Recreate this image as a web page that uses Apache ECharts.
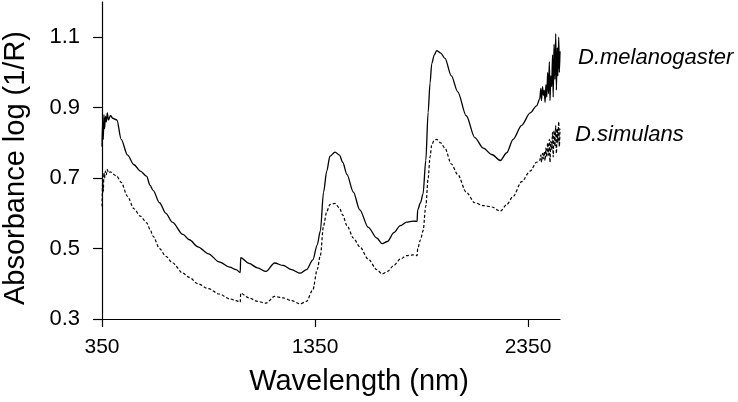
<!DOCTYPE html>
<html>
<head>
<meta charset="utf-8">
<script src="https://cdn.jsdelivr.net/npm/echarts@6/dist/echarts.min.js"></script>
<style>
  html, body { margin: 0; padding: 0; background: #fff; }
  #chart { width: 738px; height: 402px; }
</style>
</head>
<body>
<div id="chart"></div>
<script>
// values (wavelength in nm, absorbance log(1/R))
const wavelength = [
  350, 353, 356, 359, 362, 366, 370, 375, 380, 390, 400, 420, 440, 470, 500,
  530, 560, 575, 590, 620, 650, 680, 730, 760, 800, 850, 900, 950, 980, 999, 1001,
  1040, 1080, 1120, 1160, 1200, 1240, 1280, 1310, 1340, 1360, 1375, 1390, 1405, 1420,
  1444, 1465, 1480, 1500, 1530, 1560, 1600, 1640, 1665, 1690, 1720, 1750, 1780, 1810,
  1829, 1832, 1845, 1857, 1870, 1881, 1890, 1898, 1910, 1921, 1940, 1960, 1990, 2020,
  2060, 2100, 2140, 2180, 2220, 2250, 2280, 2320, 2360, 2390, 2405, 2410, 2413, 2418,
  2422, 2426, 2430, 2434, 2438, 2442, 2446, 2450, 2453, 2457, 2461, 2465, 2468, 2472,
  2476, 2480, 2483, 2487, 2490, 2494, 2497, 2500
];

const melanogaster = [
  0.79, 0.86, 0.81, 0.88, 0.84, 0.875, 0.86, 0.885, 0.865, 0.878, 0.87, 0.865, 0.81, 0.765, 0.738,
  0.72, 0.705, 0.68, 0.665, 0.63, 0.60, 0.575, 0.54, 0.525, 0.505, 0.485, 0.462, 0.447, 0.44, 0.432, 0.474,
  0.458, 0.445, 0.435, 0.459, 0.452, 0.44, 0.43, 0.44, 0.468, 0.51, 0.55, 0.66, 0.72, 0.762,
  0.774, 0.765, 0.745, 0.71, 0.66, 0.61, 0.56, 0.53, 0.514, 0.52, 0.545, 0.565, 0.575, 0.578,
  0.577, 0.61, 0.63, 0.655, 0.75, 0.887, 0.97, 1.025, 1.05, 1.062, 1.055, 1.04, 0.99, 0.945,
  0.877, 0.815, 0.785, 0.767, 0.75, 0.772, 0.81, 0.85, 0.885, 0.905, 0.925, 0.955, 0.92, 0.96,
  0.935, 0.95, 0.915, 0.965, 0.93, 1.00, 0.94, 1.03, 0.92, 0.99, 0.96, 1.05, 0.93, 1.08,
  0.98, 1.11, 0.95, 1.07, 0.99, 1.10, 1.00, 1.06
];

const simulans = [
  0.62, 0.69, 0.66, 0.715, 0.70, 0.72, 0.71, 0.724, 0.715, 0.718, 0.712, 0.705, 0.688, 0.648, 0.613,
  0.592, 0.573, 0.555, 0.535, 0.50, 0.478, 0.46, 0.43, 0.418, 0.40, 0.386, 0.371, 0.357, 0.352, 0.348, 0.373,
  0.36, 0.35, 0.345, 0.364, 0.36, 0.352, 0.343, 0.35, 0.383, 0.44, 0.48, 0.565, 0.605, 0.625,
  0.628, 0.615, 0.595, 0.565, 0.53, 0.505, 0.47, 0.44, 0.428, 0.435, 0.452, 0.47, 0.48, 0.482,
  0.48, 0.50, 0.525, 0.55, 0.62, 0.70, 0.76, 0.795, 0.808, 0.81, 0.80, 0.785, 0.74, 0.71,
  0.66, 0.63, 0.622, 0.618, 0.606, 0.625, 0.648, 0.69, 0.72, 0.745, 0.75, 0.765, 0.745, 0.77,
  0.755, 0.775, 0.75, 0.785, 0.76, 0.80, 0.765, 0.81, 0.745, 0.805, 0.78, 0.83, 0.76, 0.835,
  0.79, 0.85, 0.77, 0.84, 0.80, 0.86, 0.79, 0.84
];

const xTicks = [350, 1350, 2350];
const yTicks = [0.3, 0.5, 0.7, 0.9, 1.1];

const font = 'Arial, "Liberation Sans", sans-serif';

function pairs(xs, ys) {
  return xs.map((x, i) => [x, ys[i]]);
}

const chart = echarts.init(document.getElementById('chart'), null, { renderer: 'canvas' });

const option = {
  backgroundColor: '#ffffff',
  animation: false,
  grid: { left: 102, right: 178, top: 2, bottom: 83, containLabel: false },
  xAxis: {
    type: 'value',
    min: 350,
    max: 2500,
    interval: 1000,
    axisLine: { show: true, lineStyle: { color: '#000', width: 1.2 } },
    axisTick: { show: true, length: 8, customValues: xTicks, lineStyle: { color: '#000', width: 1.2 } },
    axisLabel: {
      customValues: xTicks,
      fontSize: 21,
      fontFamily: font,
      color: '#000',
      margin: 18,
      formatter: (v) => String(v)
    },
    splitLine: { show: false }
  },
  yAxis: {
    type: 'value',
    min: 0.3,
    max: 1.2,
    interval: 0.2,
    axisLine: { show: true, lineStyle: { color: '#000', width: 1.2 } },
    axisTick: { show: true, length: 9, customValues: yTicks, lineStyle: { color: '#000', width: 1.2 } },
    axisLabel: {
      customValues: yTicks,
      fontSize: 22,
      fontFamily: font,
      color: '#000',
      margin: 22,
      formatter: (v) => v.toFixed(1)
    },
    splitLine: { show: false }
  },
  series: [
    {
      name: 'D.melanogaster',
      type: 'line',
      data: pairs(wavelength, melanogaster),
      symbol: 'none',
      smooth: 0.3,
      smoothMonotone: 'x',
      lineStyle: { color: '#000', width: 1.3 }
    },
    {
      name: 'D.simulans',
      type: 'line',
      data: pairs(wavelength, simulans),
      symbol: 'none',
      smooth: 0.3,
      smoothMonotone: 'x',
      lineStyle: { color: '#000', width: 1.2, type: [3, 2] }
    }
  ],
  graphic: [
    {
      type: 'text',
      x: 359, y: 382,
      style: { text: 'Wavelength (nm)', fontSize: 29, fontFamily: font, fill: '#000', align: 'center', verticalAlign: 'middle' }
    },
    {
      type: 'text',
      x: 16, y: 168,
      rotation: Math.PI / 2,
      style: { text: 'Absorbance log (1/R)', fontSize: 29, fontFamily: font, fill: '#000', align: 'center', verticalAlign: 'middle' }
    },
    {
      type: 'text',
      x: 578, y: 58,
      style: { text: 'D.melanogaster', fontSize: 22, fontStyle: 'italic', fontFamily: font, fill: '#000', align: 'left', verticalAlign: 'middle' }
    },
    {
      type: 'text',
      x: 575, y: 135,
      style: { text: 'D.simulans', fontSize: 22, fontStyle: 'italic', fontFamily: font, fill: '#000', align: 'left', verticalAlign: 'middle' }
    }
  ]
};

chart.setOption(option);
</script>
</body>
</html>
